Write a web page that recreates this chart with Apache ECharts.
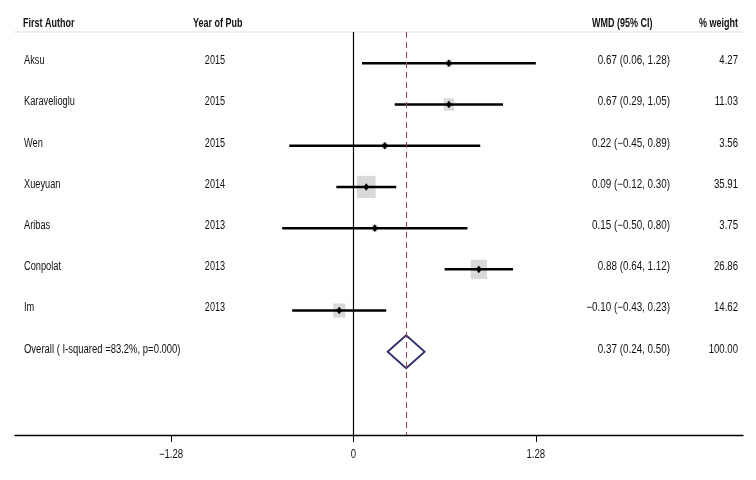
<!DOCTYPE html>
<html><head><meta charset="utf-8">
<script src="https://cdn.jsdelivr.net/npm/echarts@6/dist/echarts.min.js"></script>
<style>html,body{margin:0;padding:0;background:#fff}#c{width:756px;height:480px}</style>
</head><body><div id="c"></div>
<script>
// ---- data ----
const authors = ['Aksu','Karavelioglu','Wen','Xueyuan','Aribas','Conpolat','Im'];
const years = ['2015','2015','2015','2014','2013','2013','2013'];
const wmd = [0.67, 0.67, 0.22, 0.09, 0.15, 0.88, -0.10];
const ciLow = [0.06, 0.29, -0.45, -0.12, -0.50, 0.64, -0.43];
const ciHigh = [1.28, 1.05, 0.89, 0.30, 0.80, 1.12, 0.23];
const weights = [4.27, 11.03, 3.56, 35.91, 3.75, 26.86, 14.62];
const overallLabel = 'Overall ( I-squared =83.2%, p=0.000)';
const overallEst = 0.37, overallLow = 0.24, overallHigh = 0.50, overallWeight = 100.00;
const headers = ['First Author', 'Year of Pub', 'WMD (95% CI)', '% weight'];
const tickValues = [-1.28, 0, 1.28];

// ---- helpers ----
const FONT = '"Liberation Sans","Noto Sans",sans-serif';
const fmt = v => (v < 0 ? '\u2212' : '') + Math.abs(v).toFixed(2);
const ciText = (e, l, h) => `${fmt(e)} (${fmt(l)}, ${fmt(h)})`;

const studyData = authors.map((a, i) => [wmd[i], i, ciLow[i], ciHigh[i], weights[i]]);
const textRows = authors.map((a, i) => [0, i]).concat([[0, authors.length]]);
const tickData = tickValues.map(v => [v, 0]);

const chart = echarts.init(document.getElementById('c'), null, {renderer: 'canvas'});
const XMIN = -2.375, XMAX = 2.734, YMIN = -0.76, YMAX = 9.02;

const hdr = (x, text, align) => ({type: 'text', x: x, y: 24, scaleX: 0.75, silent: true,
  style: {text: text, font: `bold 12px ${FONT}`, fill: '#111', align: align, verticalAlign: 'middle'}});

chart.setOption({
  animation: false,
  textStyle: {fontFamily: FONT},
  grid: {left: 15, right: 13, top: 32, bottom: 45, containLabel: false},
  xAxis: [{
    type: 'value', min: XMIN, max: XMAX, position: 'bottom',
    splitLine: {show: false},
    axisLine: {show: true, onZero: false, lineStyle: {color: '#000', width: 1.3}},
    axisTick: {show: true, length: 7, customValues: tickValues, lineStyle: {color: '#000', width: 1}},
    axisLabel: {show: false}
  }, {
    type: 'value', min: XMIN, max: XMAX, position: 'top',
    splitLine: {show: false},
    axisLine: {show: true, onZero: false, lineStyle: {color: '#e9e9e9', width: 1.5}},
    axisTick: {show: false}, axisLabel: {show: false}
  }],
  yAxis: {type: 'value', inverse: true, min: YMIN, max: YMAX, show: false},
  graphic: [
    hdr(23, headers[0], 'left'),
    hdr(193, headers[1], 'left'),
    hdr(592, headers[2], 'left'),
    hdr(738, headers[3], 'right')
  ],
  series: [
    {
      type: 'custom', name: 'studies', xAxisIndex: 0, yAxisIndex: 0,
      data: studyData, clip: false, z: 3,
      renderItem: (params, api) => {
        const est = api.value(0), row = api.value(1), lo = api.value(2), hi = api.value(3), w = api.value(4);
        const c = api.coord([est, row]);
        const pl = api.coord([lo, row]), ph = api.coord([hi, row]);
        const sw = 3.13 * Math.sqrt(w), sh = 3.7 * Math.sqrt(w);
        return {type: 'group', children: [
          {type: 'rect', shape: {x: c[0] - sw / 2, y: c[1] - sh / 2, width: sw, height: sh}, style: {fill: '#d9d9d9'}},
          {type: 'line', shape: {x1: pl[0], y1: pl[1], x2: ph[0], y2: ph[1]}, style: {stroke: '#000', lineWidth: 2.5}},
          {type: 'polygon', shape: {points: [[c[0] - 3, c[1]], [c[0], c[1] - 3.8], [c[0] + 3, c[1]], [c[0], c[1] + 3.8]]}, style: {fill: '#000'}}
        ]};
      },
      markLine: {
        silent: true, symbol: 'none', label: {show: false}, animation: false,
        data: [
          {xAxis: 0, lineStyle: {color: '#000', width: 1.2, type: 'solid'}},
          {xAxis: overallEst, lineStyle: {color: '#a4405e', width: 1, type: [6, 4]}}
        ]
      }
    },
    {
      type: 'custom', name: 'overall', data: [[overallEst, authors.length, overallLow, overallHigh]], clip: false, z: 4,
      renderItem: (params, api) => {
        const est = api.value(0), row = api.value(1), lo = api.value(2), hi = api.value(3);
        const c = api.coord([est, row]), pl = api.coord([lo, row]), ph = api.coord([hi, row]);
        return {type: 'polygon', shape: {points: [[pl[0], c[1]], [c[0], c[1] - 16.5], [ph[0], c[1]], [c[0], c[1] + 16.5]]},
          style: {fill: 'none', stroke: '#2e2e6c', lineWidth: 1.8}};
      }
    },
    {
      type: 'custom', name: 'tickLabels', data: tickData, clip: false, z: 5, silent: true,
      renderItem: (params, api) => {
        const v = api.value(0);
        const p = api.coord([v, YMAX]);
        return {type: 'text', x: p[0], y: p[1] + 20, scaleX: 0.8,
          style: {text: v === 0 ? '0' : fmt(v), font: `12px ${FONT}`, fill: '#111', align: 'center', verticalAlign: 'middle'}};
      }
    },
    {
      type: 'custom', name: 'table', data: textRows, clip: false, z: 5,
      renderItem: (params, api) => {
        const i = api.value(1);
        const y = api.coord([0, i])[1] - 2.5;
        const isOverall = i >= authors.length;
        const font = `12px ${FONT}`;
        const mk = (x, text, align, sx) => ({type: 'text', x: x, y: y, scaleX: sx,
          style: {text: text, font: font, fill: '#111', align: align, verticalAlign: 'middle'}});
        if (isOverall) {
          return {type: 'group', children: [
            mk(24, overallLabel, 'left', 0.79),
            mk(670, ciText(overallEst, overallLow, overallHigh), 'right', 0.82),
            mk(738, overallWeight.toFixed(2), 'right', 0.8)
          ]};
        }
        return {type: 'group', children: [
          mk(24, authors[i], 'left', 0.77),
          mk(215, years[i], 'center', 0.76),
          mk(670, ciText(wmd[i], ciLow[i], ciHigh[i]), 'right', 0.82),
          mk(738, weights[i].toFixed(2), 'right', 0.8)
        ]};
      }
    }
  ]
});
</script></body></html>
